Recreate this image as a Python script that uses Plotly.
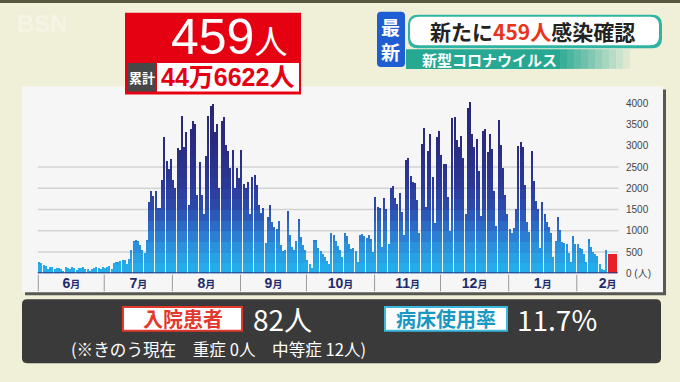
import numpy as np
import pandas as pd
import plotly.graph_objects as go

# ---------------- data ----------------
start_date = "2022-06-01"
jun = [260, 250, 205, 180, 120, 160, 150, 110, 140, 130, 120, 70, 150, 140, 110,
       150, 130, 80, 140, 130, 160, 120, 110, 60, 110, 130, 150, 140, 120, 150]
jul = [130, 150, 180, 110, 250, 270, 290, 300, 320, 330, 240, 340, 570, 760, 800, 760,
       680, 570, 490, 800, 1700, 1950, 1820, 1950, 1550, 1550, 2200, 3220, 2650, 2460, 2690]
aug = [2200, 2010, 2960, 2920, 3710, 2990, 3335, 1630, 3410, 3585, 3525, 1860, 2620, 1860,
       1400, 2770, 3710, 3950, 4000, 3335, 3525, 2010, 3600, 3680, 3030, 2880, 2500, 2920,
       2010, 2500, 2250]
sep = [2920, 2120, 2010, 2160, 1400, 2270, 2330, 2085, 1630, 1440, 1550, 720, 1330, 1630,
       1210, 1100, 1060, 1250, 680, 530, 570, 1480, 910, 640, 570, 760, 1290, 870, 680, 570]
octo = [330, 220, 140, 800, 780, 600, 520, 460, 400, 300, 230, 950, 910, 760, 660, 570, 400,
        956, 880, 690, 575, 610, 535, 270, 920, 930, 880, 840, 920, 820, 510]
nov = [1800, 1570, 1550, 630, 1780, 1510, 700, 2010, 2070, 1760, 1640, 1890, 1450, 920, 2680,
       2715, 2300, 2160, 2140, 1740, 960, 3060, 3420, 1570, 2900, 3290, 2260, 1200, 3210, 3370]
dec = [2790, 2580, 2580, 1800, 1000, 3670, 3700, 3140, 2980, 3250, 2720, 1415, 3900, 4020,
       3290, 2980, 3175, 2410, 1350, 3370, 3400, 2870, 3290, 2945, 1950, 1125, 3620, 3040,
       2490, 1860, 1415]
jan = [1050, 955, 1070, 1530, 3000, 3110, 2980, 2100, 1225, 995, 2900, 2180, 1720, 1510, 610,
       1700, 1415, 1225, 1110, 955, 405, 765, 1340, 1030, 740, 725, 690, 500, 270, 895, 705]
feb = [690, 610, 575, 460, 270, 820, 630, 510, 460, 420, 230, 115, 80, 550, 459]

y_tickvals = [0, 500, 1000, 1500, 2000, 2500, 3000, 3500, 4000]
y_ticktext = ["0 (人)", "500", "1000", "1500", "2000", "2500", "3000", "3500", "4000"]
grid_levels = [500, 1000, 1500, 2000, 2500]

new_cases = "459"
cumulative = "44万6622人"
hospitalized = "82人"
bed_rate = "11.7%"
note_text = "(※きのう現在　重症 0人　中等症 12人)"

# ---------------- helpers ----------------
W, H = 680, 382
def px(x): return x / W
def py(y): return 1 - y / H

daily = jun + jul + aug + sep + octo + nov + dec + jan + feb
vals = np.array(daily, dtype=float)
n = len(vals)
dates = pd.date_range(start_date, periods=n, freq="D")
xi = np.arange(n)

# month geometry from dates
month_key = dates.year * 100 + dates.month
starts, centers, labels = [], [], []
for k in pd.unique(month_key):
    idx = np.where(month_key == k)[0]
    m = int(k % 100)
    s = idx[0]
    days_in = dates[s].days_in_month
    starts.append(s)
    centers.append(s + (days_in - 1) / 2)
    labels.append(f"<b>{m}<span style='font-size:10px'>月</span></b>")

stops = [(0, (36, 180, 238)), (600, (42, 148, 222)), (1100, (44, 108, 200)),
         (1600, (44, 74, 170)), (2200, (43, 54, 146)), (3000, (42, 44, 128)),
         (4300, (38, 38, 110))]
def color_at(v):
    for (a, ca), (b, cb) in zip(stops[:-1], stops[1:]):
        if v <= b:
            t = (v - a) / (b - a)
            c = [round(ca[j] + (cb[j] - ca[j]) * t) for j in range(3)]
            return f"rgb({c[0]},{c[1]},{c[2]})"
    c = stops[-1][1]
    return f"rgb({c[0]},{c[1]},{c[2]})"

fig = go.Figure()

blue = vals.copy()
blue[-1] = 0
edges = np.arange(0, 4500, 250)
for lo, hi in zip(edges[:-1], edges[1:]):
    seg = np.clip(blue - lo, 0, hi - lo)
    fig.add_bar(x=xi, y=seg, width=0.68, marker_color=color_at((lo + hi) / 2),
                marker_line_width=0, hoverinfo="skip")
fig.add_bar(x=[xi[-1]], y=[vals[-1]], width=4.1, offset=-0.25,
            marker_color="#e8202a", marker_line_width=0, hoverinfo="skip")

# ---------------- shapes ----------------
shapes = []
def rect(x0, y0, x1, y1, fill, line=None, lw=0, layer="below"):
    d = dict(type="rect", xref="paper", yref="paper", x0=px(x0), x1=px(x1),
             y0=py(y1), y1=py(y0), fillcolor=fill, layer=layer,
             line=dict(width=lw, color=line if line else fill))
    shapes.append(d)

def rrect(x0, y0, x1, y1, r, fill, line=None, lw=0):
    pts = (f"M {px(x0+r)},{py(y0)} L {px(x1-r)},{py(y0)} "
           f"Q {px(x1)},{py(y0)} {px(x1)},{py(y0+r)} L {px(x1)},{py(y1-r)} "
           f"Q {px(x1)},{py(y1)} {px(x1-r)},{py(y1)} L {px(x0+r)},{py(y1)} "
           f"Q {px(x0)},{py(y1)} {px(x0)},{py(y1-r)} L {px(x0)},{py(y0+r)} "
           f"Q {px(x0)},{py(y0)} {px(x0+r)},{py(y0)} Z")
    shapes.append(dict(type="path", xref="paper", yref="paper", path=pts,
                       fillcolor=fill, layer="below",
                       line=dict(width=lw, color=line if line else fill)))

rect(0, 0, 680, 3, "#57573f")
# chart panel
rect(25, 91, 666, 300, "rgba(50,50,50,0.8)")
rect(22, 88, 663, 297, "#f6f6f6")
# gridlines
for g in grid_levels:
    shapes.append(dict(type="line", xref="x", yref="y", x0=-0.7, x1=263.5, y0=g, y1=g,
                       line=dict(color="#d3d3d3", width=1.5), layer="below"))
# month dividers
for s in starts:
    shapes.append(dict(type="line", xref="x", yref="paper", x0=s - 0.5, x1=s - 0.5,
                       y0=py(296), y1=py(279), line=dict(color="#9a9a9a", width=1),
                       layer="below"))
# baseline
shapes.append(dict(type="line", xref="x", yref="y", x0=-0.8, x1=263.2, y0=0, y1=0,
                   line=dict(color="#2b3486", width=2), layer="above"))

# header: red box
rect(125, 13, 301, 96, "#e50012")
rect(127, 64, 156, 93, "#474747")
rect(157, 64, 299, 93, "#ffffff")
# header right
rrect(408, 15, 662, 49, 10, "#2fb3a2")
rrect(410, 17, 659, 46, 9, "#ffffff")
rect(406, 50, 560, 70, "#27a893")
for k in range(10):
    a = 1 - (k + 1) / 11
    rect(560 + k * 7, 50, 567 + k * 7, 70, f"rgba(39,168,147,{a:.2f})")
rrect(377, 12, 405, 68, 4, "#1e5dd2")
# bottom panel
rrect(22, 304, 661, 369, 5, "#3a3a3a")
rect(123, 312, 242, 336, "#ffffff", line="#e2392c", lw=2)
rect(385, 312, 507, 336, "#ffffff", line="#3ab8de", lw=2)

# ---------------- annotations ----------------
ann = []
def text(x, y, t, size, color, xanchor="center", family="Noto Sans CJK JP"):
    ann.append(dict(x=px(x), y=py(y), xref="paper", yref="paper", text=t,
                    showarrow=False, xanchor=xanchor, yanchor="middle",
                    font=dict(size=size, color=color, family=family)))

text(42, 24, "<b>BSN</b>", 24, "rgba(255,255,255,0.35)", family="Liberation Sans")
text(229, 38, f"{new_cases}<span style='font-size:33px'>人</span>", 50, "#ffffff",
     family="Liberation Sans, Noto Sans CJK JP")
text(141.5, 78.5, "<b>累計</b>", 13, "#ffffff")
text(228, 78.5, f"<b>{cumulative}</b>", 25, "#e50012",
     family="Liberation Sans, Noto Sans CJK JP")
text(391, 40, "<b>最<br>新</b>", 19, "#ffffff")
text(532, 31.5, f"<b>新たに<span style='color:#e8341c'>{new_cases}人</span>感染確認</b>",
     21, "#222222")
text(420, 60.5, "<b>新型コロナウイルス</b>", 15, "#ffffff", xanchor="left")
text(182.5, 324, "<b>入院患者</b>", 20, "#e2392c")
text(251, 324, hospitalized, 28, "#ffffff", xanchor="left")
text(446, 324, "<b>病床使用率</b>", 20, "#1b98c2")
text(515, 324, bed_rate, 28, "#ffffff", xanchor="left")
text(69, 355, note_text, 16.6, "#ffffff", xanchor="left")

# ---------------- layout ----------------
x_left_px, x_right_px = 0, 621
px_per_day = 2.198
x0_center = 39.4
xr0 = (x_left_px - x0_center) / px_per_day
xr1 = (x_right_px - x0_center) / px_per_day
y_top_val = 4000 * (277.7 - 95) / (277.7 - 104.9)

fig.update_layout(
    width=W, height=H, margin=dict(l=0, r=0, t=0, b=0),
    paper_bgcolor="#f0efd8", plot_bgcolor="rgba(0,0,0,0)",
    barmode="stack", bargap=0, showlegend=False,
    font=dict(family="Noto Sans CJK JP"),
    shapes=shapes, annotations=ann,
    xaxis=dict(domain=[0, x_right_px / W], range=[xr0, xr1], tickvals=centers,
               ticktext=labels, tickfont=dict(size=14, color="#1f2b6b",
                                              family="Liberation Sans, Noto Sans CJK JP"),
               showgrid=False, zeroline=False, showline=False, ticks="",
               fixedrange=True),
    yaxis=dict(domain=[py(277.7), py(95)], range=[0, y_top_val], side="right",
               tickvals=y_tickvals, ticktext=y_ticktext,
               tickfont=dict(size=10, color="#444444",
                             family="Liberation Sans, Noto Sans CJK JP"),
               showgrid=False, zeroline=False, showline=False, ticks="",
               ticklabelstandoff=4, fixedrange=True),
)

fig.write_html("out.html")
